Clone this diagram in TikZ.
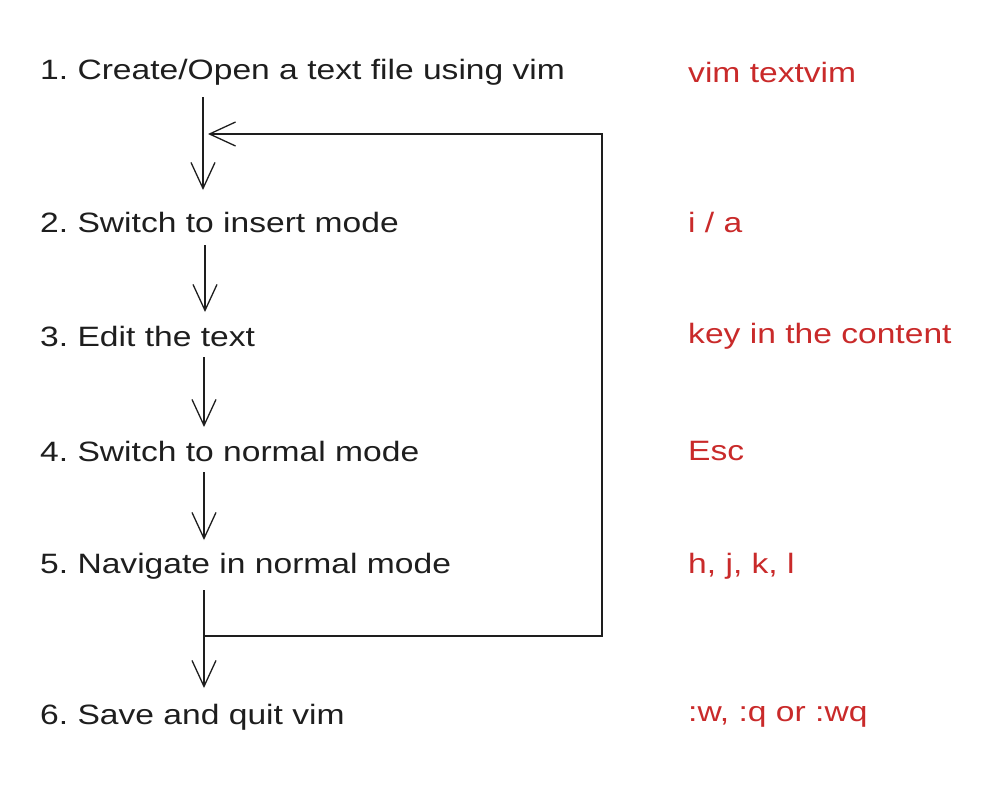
\documentclass[tikz,border=0pt]{standalone}
\usepackage{fontspec}
\setmainfont{Liberation Sans}
\newfontfamily\handfont[FakeStretch=1.2]{Liberation Sans}
\usetikzlibrary{arrows.meta,calc}
\definecolor{ink}{HTML}{1E1E1E}
\definecolor{accent}{HTML}{C92A2A}
\frenchspacing
\begin{document}
\begin{tikzpicture}[x=1pt,y=-1pt,
  steptext/.style={anchor=west,inner sep=0pt,text=ink,font=\handfont\fontsize{28}{32}\selectfont},
  keytext/.style={anchor=west,inner sep=0pt,text=accent,font=\handfont\fontsize{28}{32}\selectfont},
  arr/.style={draw=ink,line width=1.3pt,-{Straight Barb[length=26pt,width=24pt,line width=1.3pt]}}]
\useasboundingbox (0,0) rectangle (1003,787);
\node[steptext] (s1) at (40,72) {1. Create/Open a text file using vim};
\node[steptext] (s2) at (40,222) {2. Switch to insert mode};
\node[steptext] (s3) at (40,336) {3. Edit the text};
\node[steptext] (s4) at (40,451) {4. Switch to normal mode};
\node[steptext] (s5) at (40,566) {5. Navigate in normal mode};
\node[steptext] (s6) at (40,717) {6. Save and quit vim};
\node[keytext] (k1) at (688,72) {vim textvim};
\node[keytext] (k2) at (688,222) {i / a};
\node[keytext] (k3) at (688,336) {key in the content};
\node[keytext] (k4) at (688,451) {Esc};
\node[keytext] (k5) at (688,566) {h, j, k, l};
\node[keytext] (k6) at (688,717) {:w, :q or :wq};
\draw[arr] ([xshift=163pt,yshift=-25pt]s1.west) -- ([xshift=163pt,yshift=32pt]s2.west);
\draw[arr] ([xshift=165pt,yshift=-23pt]s2.west) -- ([xshift=165pt,yshift=24pt]s3.west);
\draw[arr] ([xshift=164pt,yshift=-21pt]s3.west) -- ([xshift=164pt,yshift=24pt]s4.west);
\draw[arr] ([xshift=164pt,yshift=-21pt]s4.west) -- ([xshift=164pt,yshift=26pt]s5.west);
\draw[arr] ([xshift=164pt,yshift=-24pt]s5.west) -- ([xshift=164pt,yshift=29pt]s6.west);
\coordinate (j5) at ([xshift=164pt,yshift=-70pt]s5.west);
\coordinate (rc) at (602,134);
\coordinate (j1) at ([xshift=168pt,yshift=-62pt]s1.west);
\draw[arr] (j5) -| (rc) -- (j1);
\end{tikzpicture}
\end{document}
